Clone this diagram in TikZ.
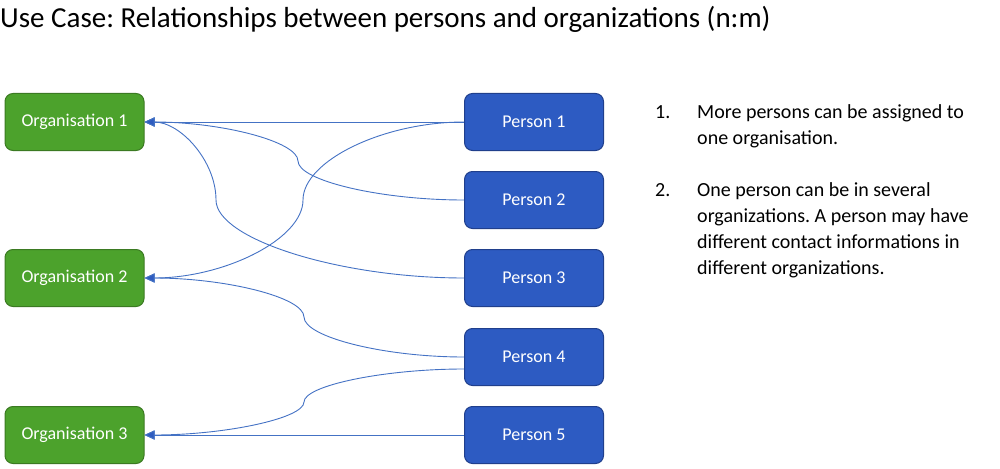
\documentclass[tikz,border=0pt]{standalone}
\usepackage{fontspec}
\setmainfont{Carlito}
\usepackage{xcolor}
\usetikzlibrary{arrows.meta}
\frenchspacing

\definecolor{orggreen}{HTML}{4CA22C}
\definecolor{orgline}{HTML}{3B7A22}
\definecolor{personblue}{HTML}{2D5BC2}
\definecolor{personline}{HTML}{203F8C}
\definecolor{linkblue}{HTML}{4472C4}
\definecolor{tipblue}{HTML}{2E5BC0}

\tikzset{
    orgbox/.style={draw=orgline, fill=orggreen, line width=1pt, rounded corners=8pt,
        minimum width=139pt, minimum height=57pt, text=white, font=\fontsize{18}{21}\selectfont},
    personbox/.style={orgbox, draw=personline, fill=personblue},
    link/.style={draw=linkblue, line width=0.9pt, -{Triangle[length=10pt,width=9pt,fill=tipblue]}},
    listtext/.style={anchor=base west, align=left, inner sep=0pt, font=\fontsize{20}{26}\selectfont}
}

\begin{document}
\begin{tikzpicture}[x=1pt,y=-1pt]
    \useasboundingbox (0,0) rectangle (1000,468);

    % Title
    \node[anchor=base west, inner sep=0pt, font=\fontsize{29}{33}\selectfont] (title) at (0,28)
        {Use Case: Relationships between persons and organizations (n:m)};

    % Organisations
    \node[orgbox] (org1) at (74.5,122) {Organisation 1};
    \node[orgbox] (org2) at (74.5,278) {Organisation 2};
    \node[orgbox] (org3) at (74.5,435) {Organisation 3};

    % Persons
    \node[personbox] (p1) at (534,122) {Person 1};
    \node[personbox] (p2) at (534,200) {Person 2};
    \node[personbox] (p3) at (534,278) {Person 3};
    \node[personbox] (p4) at (534,357) {Person 4};
    \node[personbox] (p5) at (534,435) {Person 5};

    % Bends of the curved links
    \coordinate (m21) at (298,161);
    \coordinate (m31) at (216,200);
    \coordinate (m12) at (303,200);
    \coordinate (m42) at (304,317);
    \coordinate (m43) at (304,402);
    \coordinate (p4low) at ([yshift=-12pt]p4.west);

    % Links
    \draw[link] (p1.west) -- (org1.east);
    \draw[link] (p2.west) .. controls +(-84,0) and +(0,19.5) .. (m21)
        .. controls +(0,-19.5) and +(77,0) .. (org1.east);
    \draw[link] (p3.west) .. controls +(-125,0) and +(0,39) .. (m31)
        .. controls +(0,-39) and +(36,0) .. (org1.east);
    \draw[link] (p1.west) .. controls +(-81,0) and +(0,-39) .. (m12)
        .. controls +(0,39) and +(80,0) .. (org2.east);
    \draw[link] (p4.west) .. controls +(-80,0) and +(0,20) .. (m42)
        .. controls +(0,-20) and +(80,0) .. (org2.east);
    \draw[link] (p4low) .. controls +(-80,0) and +(0,-16.5) .. (m43)
        .. controls +(0,16.5) and +(80,0) .. (org3.east);
    \draw[link] (p5.west) -- (org3.east);

    % Notes (base = last line)
    \node[listtext] (num1) at (655,118) {1.};
    \node[listtext] (note1) at (697,144) {More persons can be assigned to\\one organisation.};
    \node[listtext] (num2) at (655,196) {2.};
    \node[listtext] (note2) at (697,274) {One person can be in several\\organizations. A person may have\\different contact informations in\\different organizations.};
\end{tikzpicture}
\end{document}
